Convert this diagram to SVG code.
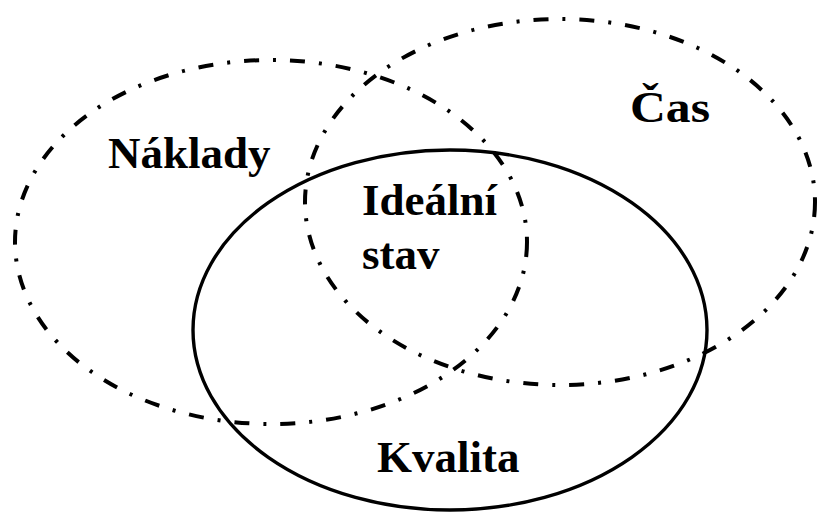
<svg xmlns="http://www.w3.org/2000/svg" width="817" height="514" viewBox="0 0 817 514">
<style>
.dd{fill:none;stroke:#000;stroke-width:4;stroke-dasharray:15 14 3 14}
.solid{fill:none;stroke:#000;stroke-width:3.4}
.t{font-family:"Liberation Serif","Times New Roman",serif;font-weight:bold;font-size:45px;fill:#000}
</style>
<rect width="817" height="514" fill="#fff"/>
<g id="naklady">
<ellipse class="dd" cx="271" cy="242" rx="256" ry="182"/>
<text class="t" x="108" y="168">Náklady</text>
</g>
<g id="cas">
<ellipse class="dd" cx="560" cy="202" rx="255" ry="183"/>
<text class="t" x="630" y="122" textLength="80" lengthAdjust="spacingAndGlyphs">Čas</text>
</g>
<g id="kvalita">
<ellipse class="solid" cx="450" cy="330" rx="257" ry="180"/>
<text class="t" x="377" y="472">Kvalita</text>
</g>
<g id="idealni">
<text class="t" x="362" y="215">Ideální</text>
<text class="t" x="362" y="269">stav</text>
</g>
<g id="connectors"/>
</svg>
